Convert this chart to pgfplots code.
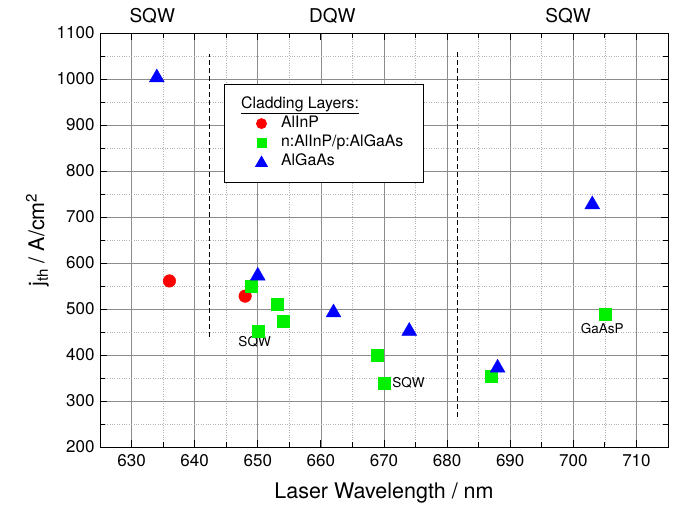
\documentclass[border=0pt]{standalone}
\usepackage{fontspec}
\setmainfont{TeX Gyre Heros}
\usepackage{pgfplots}
\pgfplotsset{compat=1.18}
\definecolor{mred}{RGB}{255,0,0}
\definecolor{mgreen}{RGB}{0,240,0}
\definecolor{mblue}{RGB}{0,0,255}
\pgfplotsset{
  legmark/.style={legend image code/.code={\path (-18.7pt,0pt) (17.3pt,0pt); \draw[##1, mark size=#1] plot coordinates {(0pt,0pt)};}},
  legtri/.style={legend image code/.code={\path (-18.7pt,0pt) (17.3pt,0pt); \draw[##1, mark size=#1] plot coordinates {(0pt,-1.5pt)};}},
}
\begin{document}
\begin{tikzpicture}
\begin{axis}[
  scale only axis, width=568pt, height=414pt,
  xmin=625, xmax=715, ymin=200, ymax=1100,
  clip=false,
  xtick={630,640,...,710}, ytick={200,300,...,1100},
  minor x tick num=1, minor y tick num=1,
  grid=both,
  major grid style={black!45, line width=0.6pt},
  minor grid style={black!30, dotted, line width=0.6pt},
  tick align=inside, tick pos=both,
  major tick length=7pt, minor tick length=5pt,
  every tick/.style={black, line width=0.9pt},
  axis line style={black, line width=1pt},
  /pgf/number format/assume math mode=true,
  /pgf/number format/set thousands separator={},
  tick label style={font=\fontsize{17}{20}\selectfont},
  xticklabel style={yshift=-4pt},
  yticklabel style={xshift=-2pt},
  xlabel={Laser Wavelength / nm},
  ylabel={j\textsubscript{th} / A/cm\textsuperscript{2}},
  xlabel style={yshift=-9pt},
  ylabel style={yshift=1pt},
  label style={font=\fontsize{21.5}{24}\selectfont},
  legend cell align=left,
  legend style={at={(0.2183,0.8776)}, anchor=north west, draw=black, line width=0.8pt,
    font=\fontsize{15.8}{19}\selectfont, inner xsep=18pt, inner ysep=11pt,
    nodes={inner sep=2pt, text height=11pt, text depth=4pt}, row sep=0pt},
]
\addlegendimage{empty legend}
\addlegendentry{\hspace{-40pt}\underline{Cladding Layers:}}

\addplot[only marks, mark=*, mred, mark size=6.3pt, legmark=5pt]
  coordinates {(636,561) (648,528)};
\addlegendentry{AlInP}

\addplot[only marks, mark=square*, mgreen, mark size=6pt, legmark=4.5pt]
  coordinates {(649,550) (650,452) (653,510) (654,474) (669,399) (670,339) (687,354) (705,489)};
\addlegendentry{n:AlInP/p:AlGaAs}

\addplot[only marks, mark=triangle*, mblue, mark size=8.6pt, legtri=6.8pt]
  coordinates {(634,1003) (650,572) (662,492) (674,452) (688,372) (703,727)};
\addlegendentry{AlGaAs}

\addplot[forget plot, black, line width=0.8pt, dash pattern=on 5pt off 3pt, no marks]
  coordinates {(642.3,440) (642.3,1055)};
\addplot[forget plot, black, line width=0.8pt, dash pattern=on 5pt off 3pt, no marks]
  coordinates {(681.6,265) (681.6,1060)};

\node[font=\fontsize{13.5}{16}\selectfont] at (axis cs:649.5,428) {SQW};
\node[font=\fontsize{13.5}{16}\selectfont] at (axis cs:673.9,339.5) {SQW};
\node[font=\fontsize{13.5}{16}\selectfont] at (axis cs:704.6,456.5) {GaAsP};

\node[font=\fontsize{19}{22}\selectfont, anchor=base] at (rel axis cs:0.092,1.0245) {SQW};
\node[font=\fontsize{19}{22}\selectfont, anchor=base] at (rel axis cs:0.409,1.0245) {DQW};
\node[font=\fontsize{19}{22}\selectfont, anchor=base] at (rel axis cs:0.824,1.0245) {SQW};
\end{axis}
\pgfresetboundingbox
\path[use as bounding box] (-100pt,-59pt) rectangle (576pt,447pt);
\end{tikzpicture}
\end{document}
